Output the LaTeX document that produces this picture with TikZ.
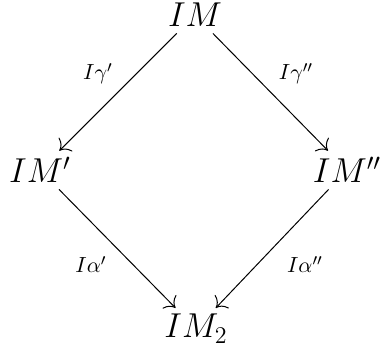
\documentclass[tikz,border=0pt]{standalone}
\usepackage{amsmath,amssymb}
\usetikzlibrary{arrows.meta}
\begin{document}
\begin{tikzpicture}[x=0.5pt, y=-0.5pt, >={To[scale=1.7]},
    obj/.style={anchor=base, inner sep=3pt, font=\fontsize{16.5}{19}\selectfont},
    lbl/.style={anchor=base, inner sep=1pt, font=\fontsize{11}{13}\selectfont}]

  \useasboundingbox (0,0) rectangle (380,351);

  % Objects
  \node[obj] (IM)   at (195,27)  {$IM$};
  \node[obj] (IMa)  at (40,183)  {$IM'$};
  \node[obj] (IMb)  at (347,183) {$IM''$};
  \node[obj] (IMtw) at (196,338) {$IM_2$};

  % Labels
  \node[lbl] (ga) at (98,80)   {$I\gamma'$};
  \node[lbl] (gb) at (296,80)  {$I\gamma''$};
  \node[lbl] (aa) at (91,273)  {$I\alpha'$};
  \node[lbl] (ab) at (305,273) {$I\alpha''$};

  % Maps
  \draw[->, line width=0.5pt] (IM) -- (IMa);
  \draw[->, line width=0.5pt] (IM) -- (IMb);
  \draw[->, line width=0.5pt] (IMa) -- (IMtw);
  \draw[->, line width=0.5pt] (IMb) -- (IMtw);

\end{tikzpicture}
\end{document}
